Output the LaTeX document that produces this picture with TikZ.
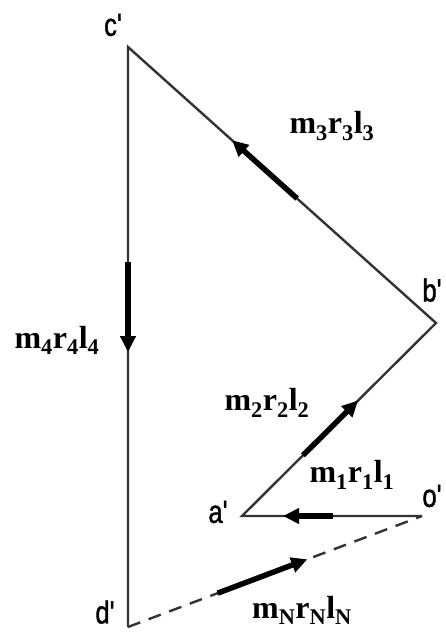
\documentclass[tikz,border=0pt]{standalone}
\usepackage{fontspec}
\setmainfont{Liberation Serif}
\newfontfamily\labfont[FakeStretch=0.8,FakeBold=1.2]{Liberation Sans}
\usetikzlibrary{arrows.meta,calc}
\begin{document}
\begin{tikzpicture}[x=1pt,y=-1pt]
\useasboundingbox (0,0) rectangle (446,634);
\tikzset{
 edge/.style={draw=black!80, line width=2.4pt},
 flow/.style={draw=black, line width=5.5pt, -{Triangle[length=16pt,width=15pt]}},
 vlabel/.style={font=\labfont\fontsize{32}{32}\selectfont, inner sep=0pt},
 mlabel/.style={font=\bfseries\fontsize{32}{32}\selectfont, inner sep=0pt}
}
\coordinate (c) at (128,47);
\coordinate (b) at (436,323);
\coordinate (a) at (242,516);
\coordinate (o) at (422,516);
\coordinate (d) at (128,627);
% edges
\draw[edge] (d) -- (c) -- (b) -- (a) -- (o);
\draw[edge, dash pattern=on 13pt off 9pt] (d) -- (o);
% flow arrows
\coordinate (f4s) at ($(c)!0.371!(d)$);
\coordinate (f4e) at ($(c)!0.526!(d)$);
\coordinate (f3s) at ($(b)!0.451!(c)$);
\coordinate (f3e) at ($(b)!0.662!(c)$);
\coordinate (f2s) at ($(a)!0.314!(b)$);
\coordinate (f2e) at ($(a)!0.598!(b)$);
\coordinate (f1s) at ($(o)!0.494!(a)$);
\coordinate (f1e) at ($(o)!0.772!(a)$);
\coordinate (fNs) at ($(d)!0.305!(o)$);
\coordinate (fNe) at ($(d)!0.61!(o)$);
\draw[flow] (f4s) -- (f4e);
\draw[flow] (f3s) -- (f3e);
\draw[flow] (f2s) -- (f2e);
\draw[flow] (f1s) -- (f1e);
\draw[flow] (fNs) -- (fNe);
% vertex labels
\node[vlabel] (lc) at (113,25) {c'};
\node[vlabel] (lb) at (432,290) {b'};
\node[vlabel] (la) at (218,512) {a'};
\node[vlabel] (lo) at (432,496) {o'};
\node[vlabel] (ld) at (105,612) {d'};
% branch labels
\node[mlabel] (m3) at (332,126) {m\textsubscript{3}r\textsubscript{3}l\textsubscript{3}};
\node[mlabel] (m4) at (57,340) {m\textsubscript{4}r\textsubscript{4}l\textsubscript{4}};
\node[mlabel] (m2) at (267,403) {m\textsubscript{2}r\textsubscript{2}l\textsubscript{2}};
\node[mlabel] (m1) at (352,475) {m\textsubscript{1}r\textsubscript{1}l\textsubscript{1}};
\node[mlabel] (mN) at (302,610) {m\textsubscript{N}r\textsubscript{N}l\textsubscript{N}};
\end{tikzpicture}
\end{document}
